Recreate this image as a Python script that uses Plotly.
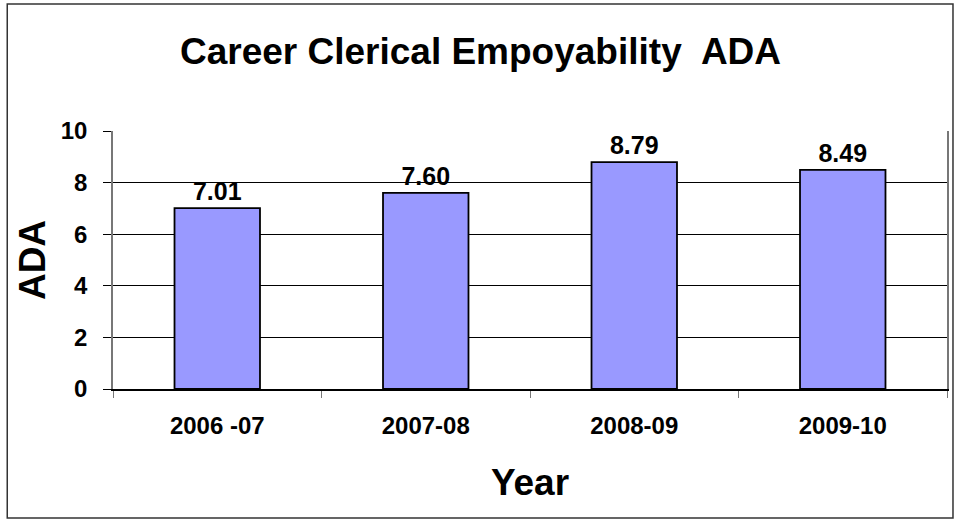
import plotly.graph_objects as go

years = ["2006 -07", "2007-08", "2008-09", "2009-10"]
ada = [7.01, 7.60, 8.79, 8.49]
labels = ["7.01", "7.60", "8.79", "8.49"]
y_ticks = [0, 2, 4, 6, 8, 10]

FONT = "Arial, Liberation Sans, sans-serif"

fig = go.Figure(
    go.Bar(
        x=years,
        y=ada,
        text=labels,
        textposition="outside",
        textfont=dict(family=FONT, size=25, color="black", weight="bold"),
        cliponaxis=False,
        marker=dict(color="#9999FF", line=dict(color="black", width=1.8)),
        width=0.41,
    )
)

fig.update_layout(
    width=961,
    height=521,
    margin=dict(l=113, r=12, t=131, b=132),
    paper_bgcolor="white",
    plot_bgcolor="white",
    showlegend=False,
    title=dict(
        text="Career Clerical Empoyability  ADA",
        font=dict(family=FONT, size=37, color="black", weight="bold"),
        x=0.5, xanchor="center",
        y=1 - 51 / 521, yanchor="middle",
    ),
    shapes=[
        dict(type="rect", xref="paper", yref="paper",
             x0=(7 - 113) / 836, x1=(955 - 113) / 836,
             y0=(389 - 518) / 258, y1=(389 - 4) / 258,
             line=dict(color="#333333", width=1.5), fillcolor="rgba(0,0,0,0)",
             layer="below"),
    ],
)

fig.update_xaxes(
    type="category",
    showline=True, linecolor="black", linewidth=1.5,
    ticks="outside", tickson="boundaries", ticklen=7, tickcolor="#777777",
    tickfont=dict(family=FONT, size=24, color="black", weight="bold"),
    ticklabelstandoff=14,
    title=dict(text="Year", font=dict(family=FONT, size=37, color="black", weight="bold"),
               standoff=32),
    showgrid=False,
)

fig.update_yaxes(
    range=[0, 10],
    tickvals=y_ticks,
    showline=True, linecolor="#777777", linewidth=1.5, mirror=True,
    ticks="outside", ticklen=8, tickcolor="black",
    tickfont=dict(family=FONT, size=24, color="black", weight="bold"),
    ticklabelstandoff=11,
    showgrid=True, gridcolor="black", gridwidth=1,
    zeroline=False,
    title=dict(text="ADA", font=dict(family=FONT, size=37, color="black", weight="bold"),
               standoff=4),
)

fig.write_html("out.html",
               config={"displayModeBar": False},
               post_script="document.body.style.margin='0';document.body.style.overflow='hidden';")
